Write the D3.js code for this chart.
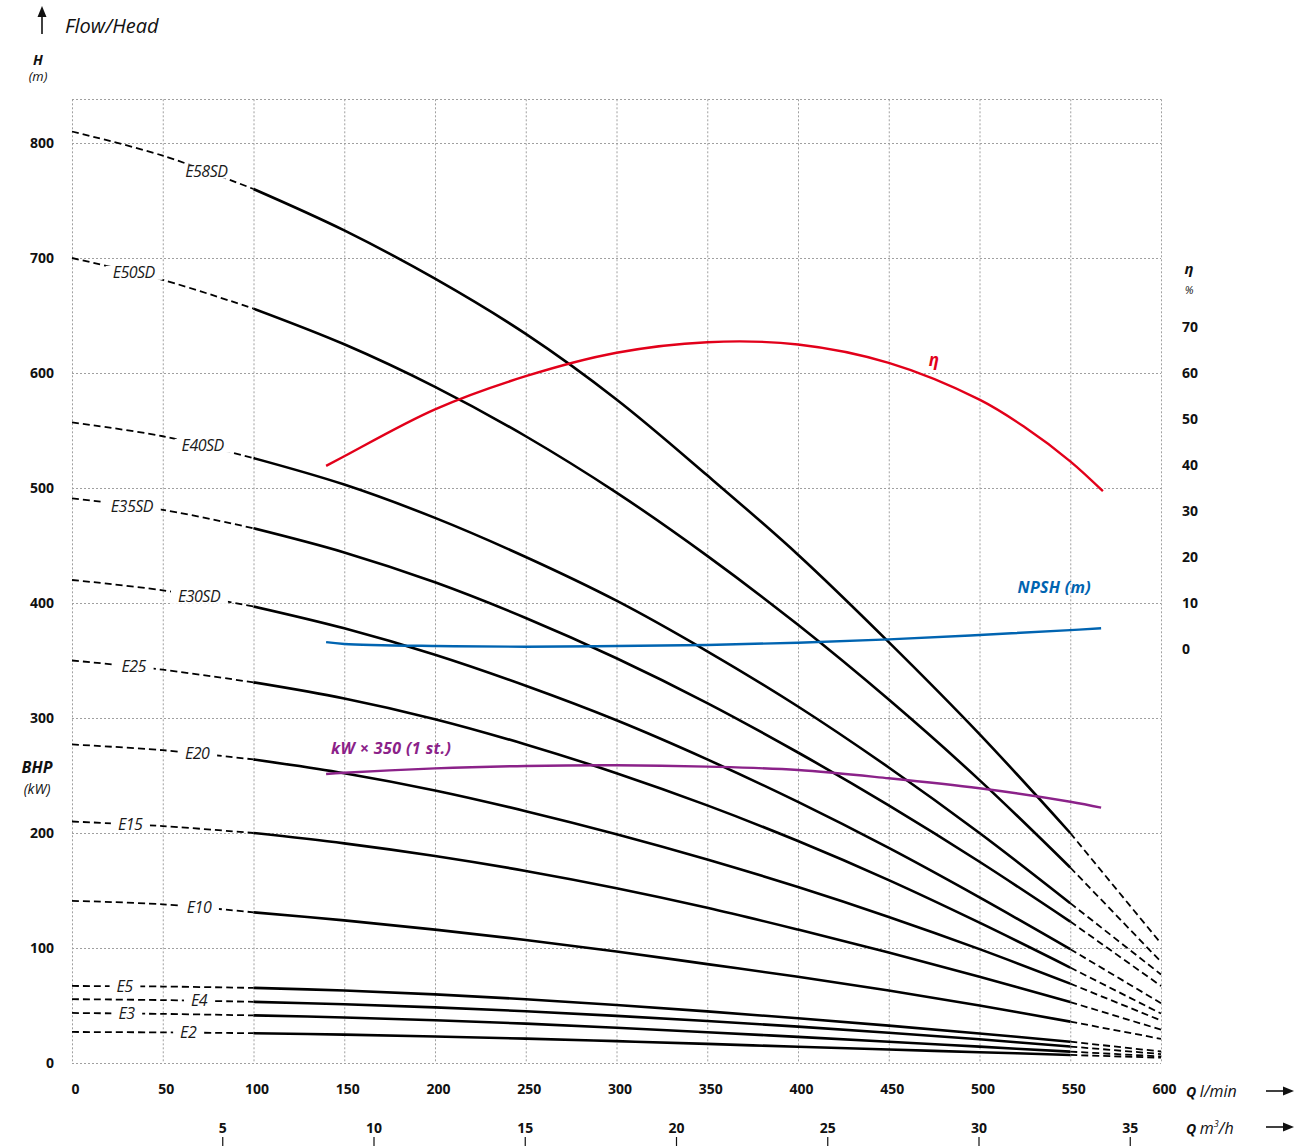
<!DOCTYPE html>
<html>
<head>
<meta charset="utf-8">
<script src="https://cdn.jsdelivr.net/npm/d3@7"></script>
<style>
  body { margin: 0; background: #fff; }
  svg text { font-family: "Open Sans", "Noto Sans", sans-serif; }
</style>
</head>
<body>
<svg id="chart" width="1302" height="1146"></svg>
<script>
// flow points (l/min) where the head curves were read
const flowQ = [0, 50, 100, 150, 200, 250, 300, 350, 400, 450, 500, 550, 600];

// head (m) of each pump model at flowQ
const headE58SD = [810, 789, 760, 724, 682, 634, 577, 511, 442, 366, 286, 200, 104];
const headE50SD = [700, 681, 656, 625, 588, 545, 496, 441, 381, 316, 246, 170, 88];
const headE40SD = [557, 545, 526, 503, 474, 440, 402, 358, 310, 257, 200, 139, 77];
const headE35SD = [491, 481, 465, 444, 418, 387, 352, 313, 270, 224, 175, 123, 67];
const headE30SD = [420, 411, 397, 378, 355, 328, 298, 264, 227, 187, 144, 99, 52];
const headE25   = [350, 342, 331, 317, 299, 277, 252, 224, 193, 159, 122, 83, 43];
const headE20   = [277, 272, 264, 252, 237, 219, 199, 177, 153, 127, 99, 69, 37];
const headE15   = [210, 206, 200, 191, 180, 167, 152, 135, 116, 96, 75, 53, 29];
const headE10   = [141, 138, 131, 124, 116, 107, 97, 86, 75, 63, 50, 36, 21];
const headE5    = [67, 66.5, 65.3, 63, 59.7, 55.5, 50.5, 44.9, 38.9, 32.5, 25.7, 18.5, 10];
const headE4    = [55.5, 54.7, 53.2, 51.1, 48.4, 45, 41, 36.5, 31.6, 26.3, 20.6, 14.3, 7.8];
const headE3    = [43.5, 42.7, 41.4, 39.6, 37.2, 34.2, 30.7, 26.8, 22.7, 18.5, 14.2, 9.9, 5.7];
const headE2    = [27, 26.6, 25.9, 24.7, 23.1, 21.2, 19, 16.6, 14.1, 11.7, 9.4, 7, 4.6];

const modelNames = ["E58SD", "E50SD", "E40SD", "E35SD", "E30SD", "E25", "E20", "E15", "E10", "E5", "E4", "E3", "E2"];
const modelHeads = [headE58SD, headE50SD, headE40SD, headE35SD, headE30SD, headE25, headE20, headE15, headE10, headE5, headE4, headE3, headE2];
// flow where each model name sits on its dashed start
const labelQ = [74, 34, 72, 33, 70, 34, 69, 32, 70, 29, 70, 30, 64];

// efficiency, NPSH and power curves
const effQ   = [140, 150, 200, 250, 300, 350, 400, 450, 500, 525, 550, 568];
const effPct = [39.8, 41.9, 52.1, 59.3, 64.4, 66.7, 66.2, 62.2, 54.2, 48.2, 40.8, 34.3];
const npshQ  = [140, 150, 200, 250, 300, 350, 400, 450, 500, 550, 567];
const npshM  = [1.5, 1.1, 0.65, 0.5, 0.65, 0.87, 1.37, 2.1, 3.05, 4.1, 4.5];
const kwQ    = [140, 150, 200, 250, 300, 350, 400, 450, 500, 550, 567];
const kwx350 = [251.3, 252.4, 256.2, 258.3, 258.9, 257.7, 254.8, 247.6, 238.9, 227.2, 222];

// tick labels
const flowTicks = d3.range(0, 601, 50);
const headTicks = d3.range(0, 801, 100);
const effTicks  = d3.range(0, 71, 10);
const m3hTicks  = [5, 10, 15, 20, 25, 30, 35];

const svg = d3.select("#chart");

const x = d3.scaleLinear().domain([0, 600]).range([72, 1161]);
const y = d3.scaleLinear().domain([0, 800]).range([1063, 143]);
const xM3 = d3.scaleLinear().domain([0, 36]).range([x(0), x(600)]);
const yEta = d3.scaleLinear().domain([0, 70]).range([y(360), y(640)]);
const topH = 838;

// grid
const grid = svg.append("g").attr("class", "grid")
  .attr("stroke", "#a0a0a0").attr("stroke-width", 1).attr("stroke-dasharray", "2,2");
grid.selectAll("line.v").data(flowTicks).enter().append("line")
  .attr("x1", d => x(d) + 0.5).attr("x2", d => x(d) + 0.5)
  .attr("y1", y(topH)).attr("y2", y(0));
grid.selectAll("line.h").data(headTicks.concat([topH])).enter().append("line")
  .attr("x1", x(0)).attr("x2", x(600))
  .attr("y1", d => Math.round(y(d)) + 0.5).attr("y2", d => Math.round(y(d)) + 0.5);

// axes (labels only, the grid is the frame)
const leftAxis = svg.append("g").attr("transform", `translate(54,0)`)
  .call(d3.axisLeft(y).tickValues(headTicks).tickSize(0).tickPadding(0));
const bottomAxis = svg.append("g").attr("transform", `translate(3,1084)`)
  .call(d3.axisBottom(x).tickValues(flowTicks).tickSize(0).tickPadding(0));
const rightAxis = svg.append("g").attr("transform", `translate(1182,0)`)
  .call(d3.axisRight(yEta).tickValues(effTicks).tickSize(0).tickPadding(0));
const m3Axis = svg.append("g").attr("transform", `translate(-1,1137)`)
  .call(d3.axisTop(xM3).tickValues(m3hTicks).tickSize(-9).tickPadding(4));

[leftAxis, bottomAxis, rightAxis, m3Axis].forEach(a => {
  a.select(".domain").remove();
  a.selectAll("text").attr("font-size", 14).attr("font-weight", 700)
    .attr("fill", "#111").style("font-family", '"Open Sans", sans-serif');
  a.selectAll(".tick line").attr("stroke", "#111").attr("stroke-width", 1.2);
});
leftAxis.selectAll("text").attr("dy", "0.3em");
rightAxis.selectAll("text").attr("dy", "0.35em");

// all curves: centripetal catmull-rom copes with uneven point spacing
const smooth = d3.curveCatmullRom.alpha(0.5);

// head curves
const line = d3.line().x(d => x(d.q)).y(d => y(d.h)).curve(smooth);
const curves = svg.append("g").attr("class", "curves").attr("fill", "none").attr("stroke", "#000");

modelNames.forEach((name, i) => {
  const pts = flowQ.map((q, j) => ({q: q, h: modelHeads[i][j]}));
  const left = pts.filter(d => d.q <= 100);
  const mid = pts.filter(d => d.q >= 100 && d.q <= 550);
  const right = pts.filter(d => d.q >= 550);

  curves.append("path").attr("d", line(left))
    .attr("stroke-width", 1.8).attr("stroke-dasharray", "7,4");
  curves.append("path").attr("d", line(mid))
    .attr("stroke-width", 2.6);
  curves.append("path").attr("d", line(right))
    .attr("stroke-width", 1.8).attr("stroke-dasharray", "7,4");

  const hAt = d3.scaleLinear().domain(flowQ).range(modelHeads[i]);
  const lx = x(labelQ[i]), ly = y(hAt(labelQ[i]));
  const g = svg.append("g").attr("class", "modelLabel");
  const t = g.append("text")
    .attr("x", lx).attr("y", ly).attr("dy", "0.35em")
    .attr("text-anchor", "middle")
    .attr("font-size", 16).attr("font-style", "italic")
    .attr("fill", "#1a1a1a").attr("letter-spacing", "-0.5")
    .text(name);
  const bb = t.node().getBBox();
  g.insert("rect", "text")
    .attr("x", bb.x - 7).attr("y", ly - 7)
    .attr("width", bb.width + 14).attr("height", 14)
    .attr("fill", "#fff");
});

// efficiency
svg.append("path")
  .attr("d", d3.line().x(d => x(d[0])).y(d => yEta(d[1])).curve(smooth)(effQ.map((q, i) => [q, effPct[i]])))
  .attr("fill", "none").attr("stroke", "#e2001a").attr("stroke-width", 2.4);
svg.append("text").attr("x", 934).attr("y", 366).attr("text-anchor", "middle")
  .attr("font-size", 17).attr("font-weight", 700).attr("font-style", "italic")
  .attr("fill", "#e2001a").text("η");

// NPSH
svg.append("path")
  .attr("d", d3.line().x(d => x(d[0])).y(d => yEta(d[1])).curve(smooth)(npshQ.map((q, i) => [q, npshM[i]])))
  .attr("fill", "none").attr("stroke", "#0064b1").attr("stroke-width", 2.4);
svg.append("text").attr("x", 1091).attr("y", 593).attr("text-anchor", "end")
  .attr("font-size", 16).attr("font-weight", 700).attr("font-style", "italic")
  .attr("fill", "#0064b1").attr("letter-spacing", "0.3").text("NPSH (m)");

// power
svg.append("path")
  .attr("d", d3.line().x(d => x(d[0])).y(d => y(d[1])).curve(smooth)(kwQ.map((q, i) => [q, kwx350[i]])))
  .attr("fill", "none").attr("stroke", "#8b2289").attr("stroke-width", 2.4);
svg.append("text").attr("x", 331).attr("y", 754)
  .attr("font-size", 16).attr("font-weight", 700).attr("font-style", "italic")
  .attr("fill", "#8b2289").attr("letter-spacing", "0.4").text("kW × 350 (1 st.)");

// axis titles
function title(xp, yp, txt, opts) {
  const t = svg.append("text").attr("x", xp).attr("y", yp)
    .attr("text-anchor", opts.anchor || "middle")
    .attr("font-size", opts.size || 13)
    .attr("font-style", "italic")
    .attr("font-weight", opts.bold ? 700 : 400)
    .attr("fill", opts.color || "#111");
  t.text(txt);
  return t;
}
title(38, 65, "H", {bold: true, size: 14});
title(38, 81, "(m)", {size: 13});
title(37, 773, "BHP", {bold: true, size: 16});
title(37, 794, "(kW)", {size: 14});
title(1189, 274, "η", {bold: true, size: 15});
title(1189, 294, "%", {size: 11});
title(65, 33, "Flow/Head", {anchor: "start", size: 20});

const qLmin = svg.append("text").attr("x", 1186).attr("y", 1097).attr("font-size", 16).attr("font-style", "italic").attr("fill", "#111");
qLmin.append("tspan").attr("font-weight", 700).attr("font-size", 14).text("Q ");
qLmin.append("tspan").text("l/min");
const qM3 = svg.append("text").attr("x", 1186).attr("y", 1134).attr("font-size", 16).attr("font-style", "italic").attr("fill", "#111");
qM3.append("tspan").attr("font-weight", 700).attr("font-size", 14).text("Q ");
qM3.append("tspan").text("m");
qM3.append("tspan").attr("font-size", 9).attr("dy", -7).text("3");
qM3.append("tspan").attr("dy", 7).text("/h");

// arrows
function arrow(x1, y1, x2, y2) {
  const ang = Math.atan2(y2 - y1, x2 - x1);
  const len = 11, half = 4.5;
  const bx = x2 - len * Math.cos(ang), by = y2 - len * Math.sin(ang);
  svg.append("line").attr("x1", x1).attr("y1", y1).attr("x2", bx).attr("y2", by)
    .attr("stroke", "#111").attr("stroke-width", 1.6);
  svg.append("path")
    .attr("d", `M${x2},${y2}L${bx - half * Math.sin(ang)},${by + half * Math.cos(ang)}L${bx + half * Math.sin(ang)},${by - half * Math.cos(ang)}Z`)
    .attr("fill", "#111");
}
arrow(42, 34, 42, 6);
arrow(1266, 1091, 1294, 1091);
arrow(1266, 1127, 1294, 1127);
</script>
</body>
</html>
